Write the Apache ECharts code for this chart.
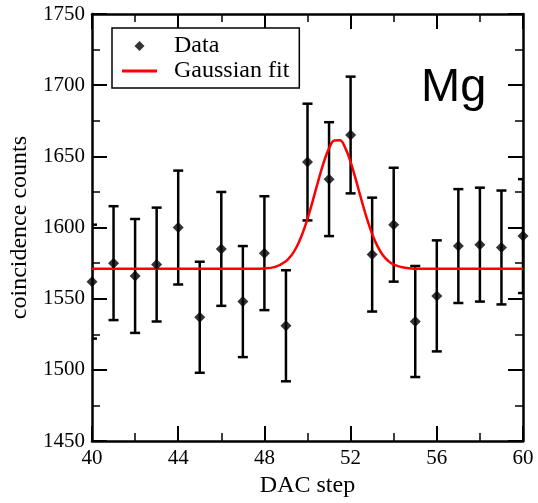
<!DOCTYPE html>
<html>
<head>
<meta charset="utf-8">
<script src="https://cdn.jsdelivr.net/npm/echarts@6/dist/echarts.min.js"></script>
<style>
html,body{margin:0;padding:0;background:#fff;}
#chart{width:538px;height:503px;}
</style>
</head>
<body>
<div id="chart"></div>
<script>
// DAC steps (x)
const dacSteps = [40,41,42,43,44,45,46,47,48,49,50,51,52,53,54,55,56,57,58,59,60];
// coincidence counts (y)
const counts = [1562,1575,1566,1574,1600,1537,1585,1548,1582,1531,1646,1634,1665,1581,1602,1534,1552,1587,1588,1586,1594];
// error bar half-lengths
const errors = [40,40,40,40,40,39,40,39,40,39,41,40,41,40,40,39,39,40,40,40,40];
// Gaussian fit curve
const fitX = [40,42,44,46,47,48,48.5,49,49.25,49.5,49.75,50,50.25,50.5,50.75,51,51.25,51.5,51.75,52,52.25,52.5,52.75,53,53.25,53.5,53.75,54,54.5,55,56,58,60];
const fitY = [1571,1571,1571,1571,1571,1571.3,1572.4,1576.4,1580.4,1586.5,1595.1,1606.1,1619.1,1632.8,1645.6,1655.7,1661.2,1661.3,1656.0,1646.1,1633.3,1619.6,1606.6,1595.5,1586.8,1580.6,1576.5,1573.9,1571.7,1571.1,1571,1571,1571];
// axis ticks
const xTicks = {min:40, max:60, step:4};
const yTicks = {min:1450, max:1750, step:50};

const serif = '"Liberation Serif", "DejaVu Serif", serif';
const chart = echarts.init(document.getElementById('chart'), null, {renderer:'canvas'});

const pointData = dacSteps.map((x,i)=>[x, counts[i]]);
const errData = dacSteps.map((x,i)=>[x, counts[i], errors[i]]);
const fitData = fitX.map((x,i)=>[x, fitY[i]]);

const axisLine = {show:true, lineStyle:{color:'#000', width:2.5}};
const tickMain = {show:true, inside:true, length:15, lineStyle:{color:'#000', width:2}};
const tickMinor = {show:true, length:8, splitNumber:2, lineStyle:{color:'#000', width:1.5}};

function xAxisCfg(pos, showLabel){
  return {
    type:'value', position:pos, min:xTicks.min, max:xTicks.max, interval:xTicks.step,
    axisLine:axisLine, axisTick:tickMain, minorTick:tickMinor,
    splitLine:{show:false},
    axisLabel:{show:showLabel, color:'#000', fontFamily:serif, fontSize:21, margin:7},
    name: showLabel ? 'DAC step' : '', nameLocation:'middle', nameGap:32,
    nameTextStyle:{color:'#000', fontFamily:serif, fontSize:24}
  };
}
function yAxisCfg(pos, showLabel){
  return {
    type:'value', position:pos, min:yTicks.min, max:yTicks.max, interval:yTicks.step,
    axisLine:axisLine, axisTick:tickMain, minorTick:tickMinor,
    splitLine:{show:false},
    axisLabel:{show:showLabel, color:'#000', fontFamily:serif, fontSize:21, margin:7,
      formatter:function(v){ return String(v); }},
    name: showLabel ? 'coincidence counts' : '', nameLocation:'middle', nameGap:57,
    nameTextStyle:{color:'#000', fontFamily:serif, fontSize:24}
  };
}

const option = {
  animation:false,
  backgroundColor:'#fff',
  grid:{left:92, right:15, top:14, bottom:59, containLabel:false},
  xAxis:[xAxisCfg('bottom', true), xAxisCfg('top', false)],
  yAxis:[yAxisCfg('left', true), yAxisCfg('right', false)],
  title:{text:'Mg', left:416, top:60, textStyle:{fontFamily:'"Liberation Sans", Arial, sans-serif', fontSize:47, fontWeight:'normal', color:'#000'}},
  legend:{
    orient:'vertical', left:112, top:28,
    backgroundColor:'#fff', borderColor:'#000', borderWidth:1.5, borderRadius:0,
    padding:[6,10,5,10], itemGap:1, itemWidth:35, itemHeight:10,
    symbolKeepAspect:true,
    textStyle:{fontFamily:serif, fontSize:24, color:'#000', padding:[0,0,0,12]},
    data:[
      {name:'Data', icon:'path://M5,0 L10,5 L5,10 L0,5 Z', itemStyle:{color:'#000'}},
      {name:'Gaussian fit', icon:'path://M0,0 L35,0 L35,3 L0,3 Z', itemStyle:{color:'#ff0000'}}
    ]
  },
  series:[
    {
      type:'custom', name:'errors', xAxisIndex:0, yAxisIndex:0, z:2, clip:true,
      data:errData, encode:{x:0, y:1},
      renderItem:function(params, api){
        const x = api.value(0), y = api.value(1), e = api.value(2);
        const top = api.coord([x, y+e]);
        const bot = api.coord([x, y-e]);
        const hw = 5;
        const st = {stroke:'#000', lineWidth:2.5};
        return {type:'group', children:[
          {type:'line', shape:{x1:top[0], y1:top[1], x2:bot[0], y2:bot[1]}, style:st},
          {type:'line', shape:{x1:top[0]-hw, y1:top[1], x2:top[0]+hw, y2:top[1]}, style:st},
          {type:'line', shape:{x1:bot[0]-hw, y1:bot[1], x2:bot[0]+hw, y2:bot[1]}, style:st}
        ]};
      }
    },
    {
      type:'line', name:'Gaussian fit', data:fitData, smooth:0.4, showSymbol:false, symbol:'none',
      lineStyle:{color:'#ff0000', width:2.5}, itemStyle:{color:'#ff0000'}, z:3
    },
    {
      type:'scatter', name:'Data', data:pointData, symbol:'diamond', symbolSize:11,
      itemStyle:{color:'#000'}, z:4
    }
  ]
};
chart.setOption(option);
</script>
</body>
</html>
